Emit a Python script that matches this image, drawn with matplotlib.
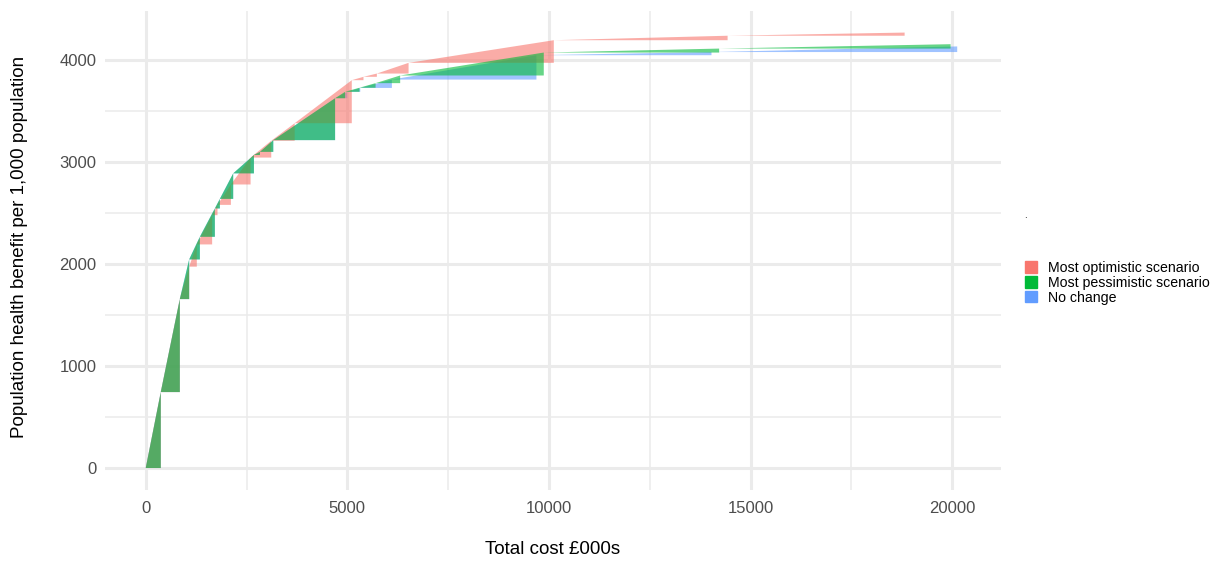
import matplotlib
matplotlib.use("Agg")
import matplotlib.pyplot as plt
from matplotlib.patches import Patch

plt.rcParams['font.family'] = ['Liberation Sans', 'DejaVu Sans']

# frontier points (total cost £000s, benefit per 1,000 population) for each scenario
optimistic_cost = [0, 373, 845, 1077, 1267, 1647, 1780, 2112, 2600, 3113, 3694,
                   5110, 5400, 5732, 6518, 10120, 14430, 18820]
optimistic_benefit = [0, 745, 1657, 1975, 2193, 2480, 2581, 2781, 3045, 3210, 3382,
                      3804, 3837, 3869, 3974, 4196, 4240, 4271]

pessimistic_cost = [0, 373, 845, 1077, 1342, 1714, 1838, 2169, 2683, 2832, 3163,
                    4696, 4944, 5300, 5700, 6310, 9871, 14220, 19960]
pessimistic_benefit = [0, 745, 1657, 2046, 2268, 2546, 2640, 2890, 3070, 3101, 3216,
                       3627, 3690, 3730, 3775, 3850, 4075, 4114, 4157]

nochange_cost = [0, 373, 845, 1077, 1342, 1714, 1838, 2169, 2683, 2832, 3163,
                 4696, 5000, 5320, 6104, 9689, 14030, 20124]
nochange_benefit = [0, 745, 1657, 2046, 2268, 2546, 2640, 2890, 3070, 3101, 3216,
                    3627, 3690, 3728, 3810, 4049, 4080, 4135]

labels = ['Most optimistic scenario', 'Most pessimistic scenario', 'No change']
colors = ['#F8766D', '#00BA38', '#619CFF']

fig = plt.figure(figsize=(12.16, 5.61), dpi=100)
ax = fig.add_axes([105 / 1216, 1 - 489.8 / 561, 896 / 1216, 479 / 561])


def draw_triangles(ax, xs, ys, color):
    # one right triangle per step of the frontier
    for i in range(len(xs) - 1):
        ax.fill([xs[i], xs[i + 1], xs[i + 1]], [ys[i], ys[i + 1], ys[i]],
                color=color, alpha=0.6, lw=0)


# drawing order: no change, optimistic, pessimistic
draw_triangles(ax, nochange_cost, nochange_benefit, colors[2])
draw_triangles(ax, optimistic_cost, optimistic_benefit, colors[0])
draw_triangles(ax, pessimistic_cost, pessimistic_benefit, colors[1])

ax.set_xlim(-1010, 21210)
ax.set_ylim(-213.5, 4484.5)
ax.set_xticks([0, 5000, 10000, 15000, 20000])
ax.set_xticks([2500, 7500, 12500, 17500], minor=True)
ax.set_yticks([0, 1000, 2000, 3000, 4000])
ax.set_yticks([500, 1500, 2500, 3500], minor=True)
ax.grid(which='major', color='#EBEBEB', lw=2.2)
ax.grid(which='minor', color='#EBEBEB', lw=1.1)
ax.set_axisbelow(True)
for s in ax.spines.values():
    s.set_visible(False)
ax.tick_params(which='both', length=0, labelsize=12, colors='#4D4D4D')
ax.tick_params(axis='x', pad=8)
ax.tick_params(axis='y', pad=6)

fig.text(553 / 1216, 1 - 550 / 561, 'Total cost £000s', ha='center', va='center', fontsize=13.5)
fig.text(20 / 1216, 1 - 247 / 561, 'Population health benefit per 1,000 population',
         ha='center', va='center', rotation=90, fontsize=13.5)

handles = [Patch(color=c) for c in colors]
fig.legend(handles, labels, loc='upper left', bbox_to_anchor=(1025 / 1216, 1 - 261 / 561),
           frameon=False, fontsize=10.2, handlelength=0.85, handleheight=0.85,
           handletextpad=0.75, labelspacing=0.06, borderpad=0, borderaxespad=0)
fig.text(1025 / 1216, 1 - 218 / 561, '.', fontsize=7, ha='center', va='baseline')

fig.savefig('out.png', dpi=100)
